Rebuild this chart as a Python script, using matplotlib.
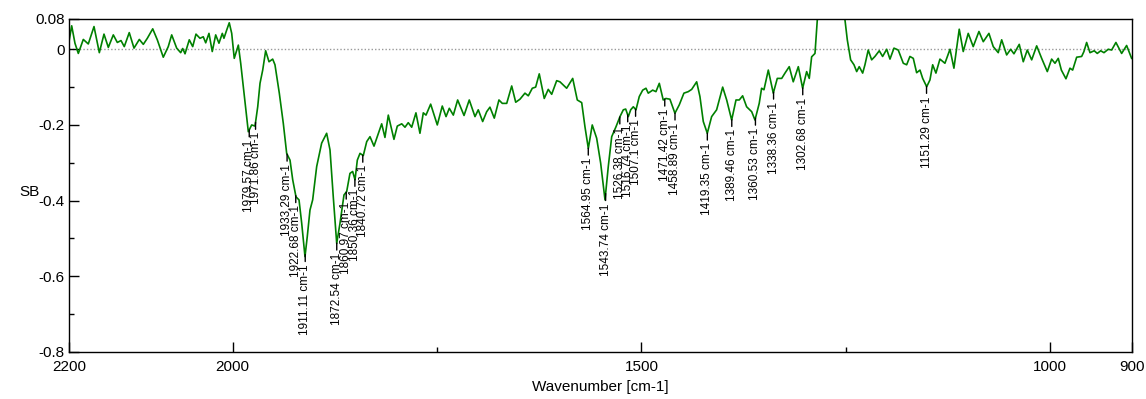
import numpy as np
import matplotlib
matplotlib.use("Agg")
import matplotlib.pyplot as plt

plt.rcParams['font.family'] = ['Liberation Sans', 'DejaVu Sans']

# spectrum (wavenumber, SB)
wavenumber = [
    2200, 2196.7, 2192.7, 2188.6, 2182.5, 2176.4, 2169.4, 2162.9, 2157.2, 2151.9,
    2145.8, 2140.9, 2136.4, 2132.4, 2126.3, 2120.5, 2114.0, 2109.1, 2104.2, 2097.6,
    2092.0, 2084.7, 2078.6, 2074.4, 2068.3, 2063.4, 2060.9, 2058.1, 2052.9, 2048.7,
    2044.7, 2039.8, 2035.8, 2032.8, 2028.8, 2024.8, 2020.6, 2016.6, 2012.5, 2010.5,
    2007.1, 2004.0, 2001.0, 1997.9, 1992.9, 1990.0, 1986.0, 1980.7, 1976.6, 1972.5,
    1969.2, 1966.4, 1963.1, 1959.5, 1955.4, 1950.9, 1948.1, 1942.8, 1937.9, 1933.8,
    1929.7, 1926.4, 1922.4, 1918.7, 1915.4, 1911.4, 1908.6, 1905.3, 1902.0, 1897.1,
    1891.0, 1884.9, 1880.8, 1876.8, 1872.6, 1868.6, 1863.7, 1860.4, 1856.4, 1853.1,
    1850.2, 1847.4, 1844.1, 1840.1, 1835.9, 1831.9, 1827.0, 1823.0, 1817.6, 1813.6,
    1809.5, 1802.6, 1798.5, 1793.1, 1789.1, 1785.1, 1780.9, 1775.7, 1770.8, 1766.7,
    1763.4, 1757.7, 1749.6, 1743.5, 1738.9, 1734.9, 1730.0, 1724.7, 1716.9, 1710.5,
    1703.5, 1699.5, 1694.1, 1689.2, 1685.2, 1679.9, 1674.2, 1670.1, 1664.7, 1658.6,
    1653.7, 1648.5, 1642.4, 1638.3, 1633.4, 1629.3, 1624.9, 1618.8, 1613.9, 1609.7,
    1603.6, 1599.6, 1591.4, 1584.0, 1578.4, 1573.0, 1569.0, 1564.9, 1560.1, 1554.7,
    1549.8, 1544.5, 1540.5, 1536.3, 1531.1, 1526.2, 1522.1, 1519.2, 1516.0, 1513.1,
    1509.9, 1506.6, 1502.6, 1498.4, 1494.4, 1491.6, 1486.2, 1482.2, 1478.1, 1473.3,
    1470.0, 1465.1, 1459.0, 1453.7, 1448.0, 1442.7, 1438.5, 1432.4, 1428.4, 1424.3,
    1419.4, 1414.1, 1408.0, 1400.6, 1395.7, 1389.6, 1384.3, 1380.3, 1376.2, 1371.3,
    1365.1, 1361.1, 1355.9, 1353.0, 1350.1, 1344.8, 1338.7, 1333.8, 1328.4, 1324.4,
    1319.2, 1314.3, 1308.1, 1302.8, 1297.9, 1294.7, 1291.8, 1287.7, 1284.9, 1278.0,
    1270.0, 1260.0, 1251.0, 1248.2, 1244.1, 1240.0, 1236.7, 1233.6, 1229.4, 1226.6,
    1222.6, 1218.4, 1214.4, 1209.1, 1205.0, 1200.0, 1196.0, 1191.1, 1185.9, 1179.7,
    1175.6, 1171.6, 1167.5, 1163.4, 1159.3, 1156.0, 1151.1, 1147.1, 1143.8, 1139.8,
    1134.9, 1128.8, 1122.6, 1117.8, 1111.3, 1106.4, 1100.3, 1094.2, 1087.2, 1081.9,
    1075.0, 1069.7, 1063.6, 1059.4, 1053.3, 1048.4, 1044.4, 1037.9, 1033.0, 1028.1,
    1022.7, 1016.6, 1010.5, 1003.6, 998.3, 994.2, 990.2, 986.4, 980.8, 975.9,
    972.6, 967.7, 961.6, 958.8, 955.5, 951.4, 946.2, 942.5, 938.3, 934.3,
    929.1, 924.9, 919.7, 912.7, 906.6, 900.5,
]
sb = [
    0.020, 0.062, 0.016, -0.011, 0.026, 0.014, 0.060, -0.009, 0.040, 0.005,
    0.038, 0.018, 0.023, 0.007, 0.044, 0.003, 0.026, 0.013, 0.029, 0.054,
    0.025, -0.021, 0.007, 0.038, 0.003, -0.009, 0.002, -0.012, 0.025, 0.007,
    0.040, 0.029, 0.033, 0.017, 0.042, -0.006, 0.038, 0.016, 0.042, 0.029,
    0.051, 0.070, 0.042, -0.024, 0.011, -0.037, -0.116, -0.218, -0.200, -0.203,
    -0.152, -0.090, -0.055, -0.004, -0.033, -0.026, -0.041, -0.116, -0.196, -0.275,
    -0.293, -0.345, -0.390, -0.398, -0.460, -0.548, -0.495, -0.425, -0.398, -0.310,
    -0.248, -0.222, -0.266, -0.390, -0.513, -0.460, -0.385, -0.376, -0.328, -0.323,
    -0.345, -0.293, -0.275, -0.281, -0.244, -0.231, -0.256, -0.231, -0.197, -0.233,
    -0.174, -0.238, -0.203, -0.197, -0.206, -0.194, -0.206, -0.168, -0.222, -0.168,
    -0.174, -0.145, -0.200, -0.150, -0.178, -0.156, -0.174, -0.134, -0.175, -0.134,
    -0.178, -0.160, -0.191, -0.165, -0.153, -0.182, -0.134, -0.143, -0.143, -0.097,
    -0.140, -0.132, -0.116, -0.123, -0.103, -0.100, -0.065, -0.130, -0.106, -0.119,
    -0.083, -0.086, -0.103, -0.077, -0.134, -0.141, -0.205, -0.262, -0.200, -0.235,
    -0.301, -0.398, -0.310, -0.231, -0.205, -0.178, -0.160, -0.158, -0.178, -0.160,
    -0.152, -0.160, -0.125, -0.108, -0.103, -0.116, -0.108, -0.112, -0.090, -0.134,
    -0.130, -0.132, -0.169, -0.147, -0.116, -0.112, -0.106, -0.086, -0.125, -0.191,
    -0.222, -0.178, -0.160, -0.100, -0.134, -0.187, -0.134, -0.134, -0.123, -0.152,
    -0.165, -0.187, -0.143, -0.103, -0.107, -0.055, -0.116, -0.077, -0.077, -0.063,
    -0.046, -0.086, -0.046, -0.103, -0.059, -0.077, -0.020, -0.011, 0.077, 0.160,
    0.220, 0.160, 0.077, 0.025, -0.028, -0.041, -0.059, -0.046, -0.063, -0.041,
    -0.002, -0.028, -0.019, -0.004, -0.019, 0.000, -0.026, 0.003, -0.002, -0.037,
    -0.041, -0.019, -0.024, -0.062, -0.055, -0.077, -0.099, -0.081, -0.041, -0.063,
    -0.026, -0.037, 0.000, -0.050, 0.053, -0.006, 0.042, 0.007, 0.047, 0.020,
    0.042, 0.007, -0.009, 0.025, -0.015, 0.000, -0.012, 0.013, -0.033, -0.002,
    -0.028, 0.009, -0.024, -0.059, -0.026, -0.037, -0.024, -0.055, -0.078, -0.050,
    -0.055, -0.021, -0.019, -0.006, 0.018, -0.009, -0.004, -0.011, -0.004, -0.009,
    0.000, -0.002, 0.018, -0.011, 0.010, -0.024,
]

peaks = [1979.57, 1971.86, 1933.29, 1922.68, 1911.11, 1872.54, 1860.97, 1850.36,
         1840.72, 1564.95, 1543.74, 1526.38, 1516.74, 1507.1, 1471.42, 1458.89,
         1419.35, 1389.46, 1360.53, 1338.36, 1302.68, 1151.29]
peak_labels = ["1979.57 cm-1", "1971.86 cm-1", "1933.29 cm-1", "1922.68 cm-1",
               "1911.11 cm-1", "1872.54 cm-1", "1860.97 cm-1", "1850.36 cm-1",
               "1840.72 cm-1", "1564.95 cm-1", "1543.74 cm-1", "1526.38 cm-1",
               "1516.74 cm-1", "1507.1 cm-1", "1471.42 cm-1", "1458.89 cm-1",
               "1419.35 cm-1", "1389.46 cm-1", "1360.53 cm-1", "1338.36 cm-1",
               "1302.68 cm-1", "1151.29 cm-1"]

x = np.array(wavenumber)
y = np.array(sb)

fig = plt.figure(figsize=(11.46, 3.99), dpi=100)
ax = fig.add_axes([0.0602, 0.1178, 0.9276, 0.8346])

ax.axhline(0, color='#999999', lw=1, ls=(0, (1, 1.5)), zorder=1)
ax.plot(x, y, color='#008000', lw=1.2, zorder=2)

# peak markers
py = np.interp(peaks, x[::-1], y[::-1])
for p, v, lab in zip(peaks, py, peak_labels):
    ax.annotate(lab, xy=(p, v), xytext=(0, -7), textcoords='offset points',
                rotation=90, ha='center', va='top', fontsize=8.5,
                arrowprops=dict(arrowstyle='-', color='black', lw=1,
                                shrinkA=0, shrinkB=0), zorder=3)

ax.set_xlim(2200, 900)
ax.set_ylim(-0.8, 0.08)
ax.set_xticks([2200, 2000, 1500, 1000, 900])
ax.set_xticklabels(['2200', '2000', '1500', '1000', '900'])
ax.set_xticks([1750, 1250], minor=True)
ax.set_yticks([0.08, 0, -0.2, -0.4, -0.6, -0.8])
ax.set_yticklabels(['0.08', '0', '-0.2', '-0.4', '-0.6', '-0.8'])
ax.set_yticks([-0.1, -0.3, -0.5, -0.7], minor=True)
ax.tick_params(which='both', direction='in', labelsize=11, pad=3, width=1)
ax.tick_params(axis='x', which='major', pad=6)
ax.tick_params(which='major', length=7)
ax.tick_params(which='minor', length=3.5)
for s in ax.spines.values():
    s.set_linewidth(1)

ax.set_xlabel('Wavenumber [cm-1]', fontsize=11)
ax.xaxis.set_label_coords(0.5, -0.085)
ax.set_ylabel('SB', fontsize=11, rotation=0, va='center', ha='center')
ax.yaxis.set_label_coords(-0.037, 0.48)

fig.savefig('out.png', dpi=100)
